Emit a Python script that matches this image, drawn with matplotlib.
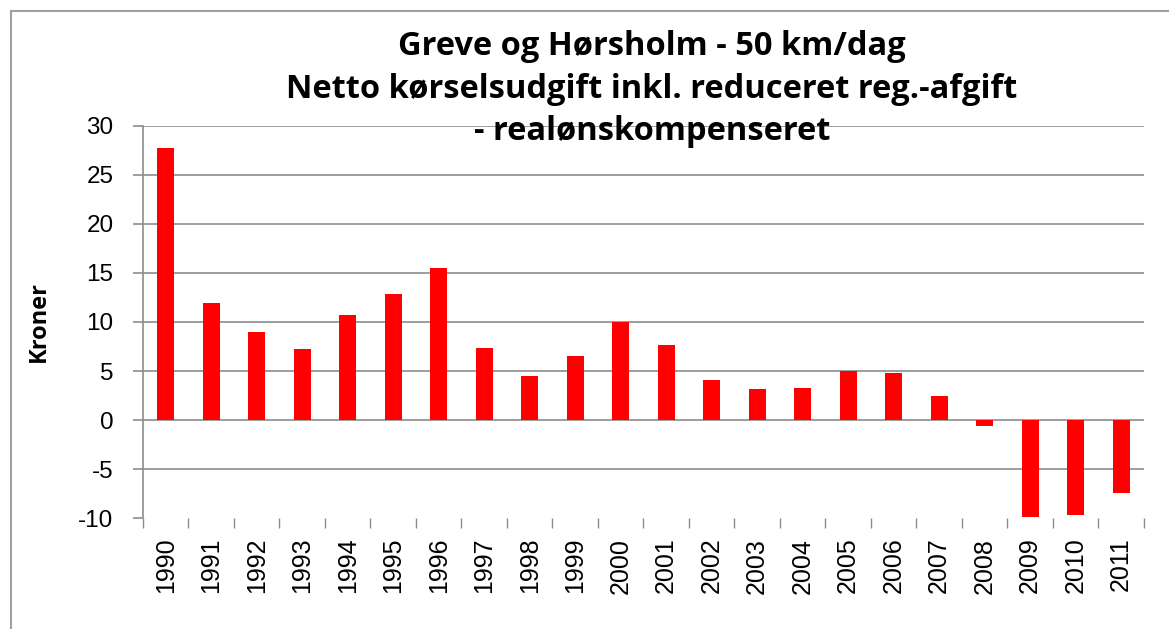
import numpy as np
import matplotlib
matplotlib.use('Agg')
import matplotlib.pyplot as plt
from matplotlib.lines import Line2D

# data
years = [str(y) for y in range(1990, 2012)]
kroner = [27.7, 11.9, 9.0, 7.2, 10.75, 12.9, 15.5, 7.3, 4.45, 6.5, 9.95,
          7.65, 4.1, 3.2, 3.3, 5.05, 4.85, 2.45, -0.6, -9.9, -9.7, -7.4]
y_ticks = [-10, -5, 0, 5, 10, 15, 20, 25, 30]
title_lines = ['Greve og Hørsholm - 50 km/dag',
               'Netto kørselsudgift inkl. reduceret reg.-afgift',
               '- realønskompenseret']
y_label = 'Kroner'

plt.rcParams['axes.unicode_minus'] = False
grid_col = '#8c8c8c'

fig = plt.figure(figsize=(11.69, 6.29), dpi=100)
ax = fig.add_axes([0.1223, 0.176, 0.8563, 0.6242])

x = np.arange(len(years))
ax.bar(x, kroner, width=0.38, color='#ff0000', zorder=2)

ax.set_xlim(-0.5, len(years) - 0.5)
ax.set_ylim(-10, 30)
ax.set_yticks(y_ticks)
ax.set_yticklabels([str(v) for v in y_ticks], fontsize=17.5, family='Liberation Sans')
ax.set_xticks(x)
ax.set_xticklabels(years, rotation=90, fontsize=18, family='Liberation Sans')
ax.set_xticks(np.arange(len(years) + 1) - 0.5, minor=True)

ax.tick_params(axis='x', which='major', length=0, pad=14)
ax.tick_params(axis='x', which='minor', length=7.2, width=1, color=grid_col, direction='out')
ax.tick_params(axis='y', length=7.2, width=1.2, color=grid_col, pad=14)

ax.yaxis.grid(True, color=grid_col, lw=1.2)
ax.set_axisbelow(True)
ax.yaxis.get_gridlines()[0].set_visible(False)

for s in ['top', 'right', 'bottom']:
    ax.spines[s].set_visible(False)
ax.spines['left'].set_color(grid_col)
ax.spines['left'].set_linewidth(1.2)

ax.set_ylabel(y_label, fontsize=17, fontweight='bold', family='Open Sans', labelpad=20)

# title (three lines, drawn over the plot area)
ys = [0.9126, 0.8442, 0.7774]
for t, yy in zip(title_lines, ys):
    fig.text(0.5577, yy, t, ha='center', va='baseline', fontsize=23.5,
             fontweight='bold', family='Open Sans')

# chart border (only top and left visible)
fig.add_artist(Line2D([0.009, 0.009], [0, 0.983], transform=fig.transFigure, color='#a0a0a0', lw=1.5))
fig.add_artist(Line2D([0.009, 1.0], [0.983, 0.983], transform=fig.transFigure, color='#a0a0a0', lw=1.5))

fig.savefig('out.png', dpi=100)
